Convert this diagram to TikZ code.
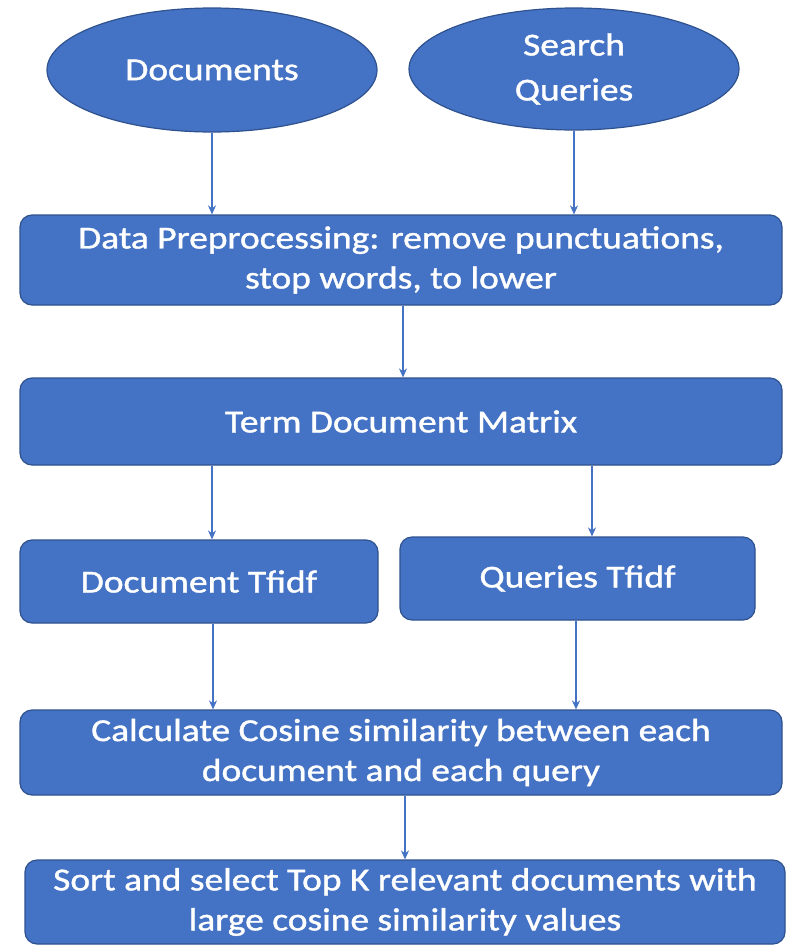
\documentclass[tikz,border=0pt]{standalone}
\usepackage{fontspec}
\setmainfont[FakeStretch=1.17,FakeBold=1.2]{Carlito}
\usetikzlibrary{shapes.geometric,arrows.meta,calc}
\definecolor{boxfill}{HTML}{4472C4}
\definecolor{boxline}{HTML}{2F528F}
\definecolor{arrowcol}{HTML}{4472C4}
\tikzset{
  source/.style={ellipse, fill=boxfill, draw=boxline, line width=1.2pt,
    inner sep=0pt, text=white, align=center,
    font=\fontsize{32}{45}\selectfont},
  stepbox/.style={rectangle, rounded corners=12pt, fill=boxfill, draw=boxline,
    line width=1.2pt, inner sep=0pt, text=white, align=center,
    font=\fontsize{32}{40}\selectfont},
  arr/.style={draw=arrowcol, line width=1.3pt,
    -{Stealth[length=9pt,width=8pt]}}
}
\begin{document}
\begin{tikzpicture}[x=1pt,y=-1pt]
  \useasboundingbox (0,0) rectangle (797,946);

  % input sources
  \node[source, minimum width=330pt, minimum height=124pt] (docs) at (212,70) {Documents};
  \node[source, minimum width=330pt, minimum height=122pt] (queries) at (574,69) {Search\\Queries};

  % processing steps
  \node[stepbox, minimum width=762pt, minimum height=90pt] (pre) at (401,260)
    {Data Preprocessing: remove punctuations,\\stop words, to lower};
  \node[stepbox, minimum width=762pt, minimum height=87pt] (tdm) at (401,421.5)
    {Term Document Matrix};
  \node[stepbox, minimum width=358pt, minimum height=83pt] (dtf) at (199,581.5)
    {Document Tfidf};
  \node[stepbox, minimum width=355pt, minimum height=83pt] (qtf) at (577.5,578.5)
    {Queries Tfidf};
  \node[stepbox, minimum width=762pt, minimum height=85pt] (cos) at (401,752.5)
    {Calculate Cosine similarity between each\\document and each query};
  \node[stepbox, minimum width=760pt, minimum height=84pt] (sort) at (405,902)
    {Sort and select Top K relevant documents with\\large cosine similarity values};

  % connectors
  \draw[arr] (docs.south) -- (docs.south |- pre.north);
  \draw[arr] (queries.south) -- (queries.south |- pre.north);
  \draw[arr] ([xshift=2pt]pre.south) -- ([xshift=2pt]pre.south |- tdm.north);
  \draw[arr] ([xshift=13pt]dtf.north |- tdm.south) -- ([xshift=13pt]dtf.north);
  \draw[arr] ([xshift=14.5pt]qtf.north |- tdm.south) -- ([xshift=14.5pt]qtf.north);
  \draw[arr] ([xshift=14pt]dtf.south) -- ([xshift=14pt]dtf.south |- cos.north);
  \draw[arr] ([xshift=-1.5pt]qtf.south) -- ([xshift=-1.5pt]qtf.south |- cos.north);
  \draw[arr] ([xshift=4pt]cos.south) -- ([xshift=4pt]cos.south |- sort.north);
\end{tikzpicture}
\end{document}
